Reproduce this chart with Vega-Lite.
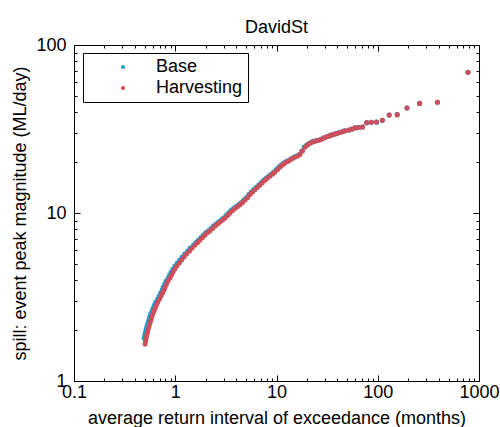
{
  "$schema": "https://vega.github.io/schema/vega-lite/v6.json",
  "width": 405,
  "height": 336,
  "autosize": "none",
  "padding": {"left": 74, "top": 45, "right": 21, "bottom": 46},
  "background": "white",
  "title": {"text": "DavidSt", "font": "Liberation Sans", "fontSize": 18, "fontWeight": "normal", "color": "black", "anchor": "middle", "baseline": "alphabetic", "offset": 13.5, "dy": 28},
  "config": {
    "view": {"stroke": "black", "strokeWidth": 1},
    "axis": {"grid": false, "domainColor": "black", "tickColor": "black", "labelColor": "black", "titleColor": "black", "labelFont": "Liberation Sans", "titleFont": "Liberation Sans", "labelFontSize": 18, "titleFontSize": 18, "titleFontWeight": "normal", "labelFlush": false, "labelOverlap": false, "domainWidth": 1, "tickWidth": 1},
    "legend": {"labelFont": "Liberation Sans", "labelFontSize": 18, "labelColor": "black"}
  },
  "data": {"values": [
    {"scenario":"Base","ari":0.4936,"peak":1.803},{"scenario":"Base","ari":0.5004,"peak":1.878},{"scenario":"Base","ari":0.5084,"peak":1.957},{"scenario":"Base","ari":0.5165,"peak":2.039},{"scenario":"Base","ari":0.5261,"peak":2.125},{"scenario":"Base","ari":0.5382,"peak":2.214},{"scenario":"Base","ari":0.5493,"peak":2.307},{"scenario":"Base","ari":0.5594,"peak":2.404},{"scenario":"Base","ari":0.5723,"peak":2.505},{"scenario":"Base","ari":0.5894,"peak":2.61},{"scenario":"Base","ari":0.6058,"peak":2.72},{"scenario":"Base","ari":0.6239,"peak":2.834},{"scenario":"Base","ari":0.6426,"peak":2.953},{"scenario":"Base","ari":0.6709,"peak":3.077},{"scenario":"Base","ari":0.6943,"peak":3.206},{"scenario":"Base","ari":0.7184,"peak":3.34},{"scenario":"Base","ari":0.7432,"peak":3.481},{"scenario":"Base","ari":0.7604,"peak":3.627},{"scenario":"Base","ari":0.7868,"peak":3.779},{"scenario":"Base","ari":0.8141,"peak":3.937},{"scenario":"Base","ari":0.8518,"peak":4.103},{"scenario":"Base","ari":0.8816,"peak":4.276},{"scenario":"Base","ari":0.9121,"peak":4.455},{"scenario":"Base","ari":0.9502,"peak":4.642},{"scenario":"Base","ari":0.9944,"peak":4.836},{"scenario":"Base","ari":1.0501,"peak":5.04},{"scenario":"Base","ari":1.1065,"peak":5.251},{"scenario":"Base","ari":1.1714,"peak":5.471},{"scenario":"Base","ari":1.2399,"peak":5.701},{"scenario":"Base","ari":1.327,"peak":5.94},{"scenario":"Base","ari":1.4046,"peak":6.19},
    {"scenario":"Base","ari":1.515,"peak":6.449},{"scenario":"Base","ari":1.603,"peak":6.674},{"scenario":"Base","ari":1.697,"peak":6.907},{"scenario":"Base","ari":1.796,"peak":7.148},{"scenario":"Base","ari":1.901,"peak":7.396},{"scenario":"Base","ari":2.012,"peak":7.644},{"scenario":"Base","ari":2.13,"peak":7.845},{"scenario":"Base","ari":2.255,"peak":8.085},{"scenario":"Base","ari":2.386,"peak":8.367},{"scenario":"Base","ari":2.526,"peak":8.6},{"scenario":"Base","ari":2.674,"peak":8.839},{"scenario":"Base","ari":2.831,"peak":9.085},{"scenario":"Base","ari":2.996,"peak":9.337},{"scenario":"Base","ari":3.171,"peak":9.663},{"scenario":"Base","ari":3.357,"peak":10.0},{"scenario":"Base","ari":3.553,"peak":10.35},{"scenario":"Base","ari":3.761,"peak":10.64},{"scenario":"Base","ari":3.981,"peak":10.92},{"scenario":"Base","ari":4.243,"peak":11.21},{"scenario":"Base","ari":4.491,"peak":11.55},{"scenario":"Base","ari":4.754,"peak":11.95},{"scenario":"Base","ari":5.032,"peak":12.33},{"scenario":"Base","ari":5.327,"peak":12.89},{"scenario":"Base","ari":5.638,"peak":13.34},{"scenario":"Base","ari":5.968,"peak":13.8},{"scenario":"Base","ari":6.316,"peak":14.24},{"scenario":"Base","ari":6.686,"peak":14.68},{"scenario":"Base","ari":7.077,"peak":15.19},{"scenario":"Base","ari":7.492,"peak":15.72},{"scenario":"Base","ari":7.93,"peak":16.15},{"scenario":"Base","ari":8.394,"peak":16.6},{"scenario":"Base","ari":8.885,"peak":17.06},{"scenario":"Base","ari":9.405,"peak":17.54},{"scenario":"Base","ari":9.955,"peak":18.15},{"scenario":"Base","ari":10.54,"peak":18.78},{"scenario":"Base","ari":11.15,"peak":19.31},{"scenario":"Base","ari":11.8,"peak":19.84},{"scenario":"Base","ari":12.49,"peak":20.25},{"scenario":"Base","ari":13.35,"peak":20.68},{"scenario":"Base","ari":14.13,"peak":21.11},{"scenario":"Base","ari":14.96,"peak":21.54},{"scenario":"Base","ari":15.83,"peak":21.84},{"scenario":"Base","ari":16.75,"peak":22.3},{"scenario":"Base","ari":17.73,"peak":23.39},{"scenario":"Base","ari":18.78,"peak":24.71},{"scenario":"Base","ari":19.88,"peak":25.4},{"scenario":"Base","ari":21.03,"peak":26.0},{"scenario":"Base","ari":22.27,"peak":26.46},{"scenario":"Base","ari":23.57,"peak":26.72},{"scenario":"Base","ari":24.95,"peak":27.01},{"scenario":"Base","ari":26.65,"peak":27.31},{"scenario":"Base","ari":28.21,"peak":27.65},{"scenario":"Base","ari":29.86,"peak":28.15},{"scenario":"Base","ari":31.6,"peak":28.54},{"scenario":"Base","ari":33.45,"peak":28.85},{"scenario":"Base","ari":35.41,"peak":29.21},{"scenario":"Base","ari":37.49,"peak":29.53},{"scenario":"Base","ari":39.68,"peak":29.85},{"scenario":"Base","ari":41.99,"peak":30.14},{"scenario":"Base","ari":44.45,"peak":30.47},{"scenario":"Base","ari":47.05,"peak":30.85},
    {"scenario":"Base","ari":51.87,"peak":31.2},{"scenario":"Base","ari":55.57,"peak":31.6},{"scenario":"Base","ari":59.85,"peak":32.1},{"scenario":"Base","ari":64.83,"peak":32.3},{"scenario":"Base","ari":70.73,"peak":32.5},{"scenario":"Base","ari":77.8,"peak":34.5},{"scenario":"Base","ari":86.44,"peak":34.7},{"scenario":"Base","ari":97.25,"peak":34.8},{"scenario":"Base","ari":111.1,"peak":35.6},{"scenario":"Base","ari":129.7,"peak":38.3},{"scenario":"Base","ari":155.6,"peak":38.5},{"scenario":"Base","ari":194.5,"peak":42.2},{"scenario":"Base","ari":259.3,"peak":44.9},{"scenario":"Base","ari":389,"peak":45.6},{"scenario":"Base","ari":778,"peak":68.8},
    {"scenario":"Harvesting","ari":0.5025,"peak":1.66},{"scenario":"Harvesting","ari":0.5095,"peak":1.73},{"scenario":"Harvesting","ari":0.5165,"peak":1.803},{"scenario":"Harvesting","ari":0.5236,"peak":1.878},{"scenario":"Harvesting","ari":0.532,"peak":1.957},{"scenario":"Harvesting","ari":0.5405,"peak":2.039},{"scenario":"Harvesting","ari":0.5505,"peak":2.125},{"scenario":"Harvesting","ari":0.5632,"peak":2.214},{"scenario":"Harvesting","ari":0.5748,"peak":2.307},{"scenario":"Harvesting","ari":0.5854,"peak":2.404},{"scenario":"Harvesting","ari":0.5989,"peak":2.505},{"scenario":"Harvesting","ari":0.6168,"peak":2.61},{"scenario":"Harvesting","ari":0.6339,"peak":2.72},{"scenario":"Harvesting","ari":0.6529,"peak":2.834},{"scenario":"Harvesting","ari":0.6725,"peak":2.953},{"scenario":"Harvesting","ari":0.6989,"peak":3.077},{"scenario":"Harvesting","ari":0.7233,"peak":3.206},{"scenario":"Harvesting","ari":0.7484,"peak":3.34},{"scenario":"Harvesting","ari":0.7743,"peak":3.481},{"scenario":"Harvesting","ari":0.7922,"peak":3.627},{"scenario":"Harvesting","ari":0.8197,"peak":3.779},{"scenario":"Harvesting","ari":0.8481,"peak":3.937},{"scenario":"Harvesting","ari":0.8874,"peak":4.103},{"scenario":"Harvesting","ari":0.9184,"peak":4.276},{"scenario":"Harvesting","ari":0.9502,"peak":4.455},{"scenario":"Harvesting","ari":0.9899,"peak":4.642},{"scenario":"Harvesting","ari":1.0359,"peak":4.836},{"scenario":"Harvesting","ari":1.094,"peak":5.04},{"scenario":"Harvesting","ari":1.1527,"peak":5.251},{"scenario":"Harvesting","ari":1.2203,"peak":5.471},{"scenario":"Harvesting","ari":1.2917,"peak":5.701},{"scenario":"Harvesting","ari":1.3824,"peak":5.94},{"scenario":"Harvesting","ari":1.4633,"peak":6.19},
    {"scenario":"Harvesting","ari":1.567,"peak":6.449},{"scenario":"Harvesting","ari":1.659,"peak":6.674},{"scenario":"Harvesting","ari":1.756,"peak":6.907},{"scenario":"Harvesting","ari":1.858,"peak":7.148},{"scenario":"Harvesting","ari":1.967,"peak":7.396},{"scenario":"Harvesting","ari":2.082,"peak":7.644},{"scenario":"Harvesting","ari":2.204,"peak":7.845},{"scenario":"Harvesting","ari":2.333,"peak":8.085},{"scenario":"Harvesting","ari":2.469,"peak":8.367},{"scenario":"Harvesting","ari":2.614,"peak":8.6},{"scenario":"Harvesting","ari":2.767,"peak":8.839},{"scenario":"Harvesting","ari":2.929,"peak":9.085},{"scenario":"Harvesting","ari":3.1,"peak":9.337},{"scenario":"Harvesting","ari":3.281,"peak":9.663},{"scenario":"Harvesting","ari":3.473,"peak":10.0},{"scenario":"Harvesting","ari":3.676,"peak":10.35},{"scenario":"Harvesting","ari":3.891,"peak":10.64},{"scenario":"Harvesting","ari":4.119,"peak":10.92},{"scenario":"Harvesting","ari":4.36,"peak":11.21},{"scenario":"Harvesting","ari":4.615,"peak":11.55},{"scenario":"Harvesting","ari":4.885,"peak":11.95},{"scenario":"Harvesting","ari":5.171,"peak":12.33},{"scenario":"Harvesting","ari":5.474,"peak":12.89},{"scenario":"Harvesting","ari":5.794,"peak":13.34},{"scenario":"Harvesting","ari":6.133,"peak":13.8},{"scenario":"Harvesting","ari":6.491,"peak":14.24},{"scenario":"Harvesting","ari":6.871,"peak":14.68},{"scenario":"Harvesting","ari":7.273,"peak":15.19},{"scenario":"Harvesting","ari":7.699,"peak":15.72},{"scenario":"Harvesting","ari":8.149,"peak":16.15},{"scenario":"Harvesting","ari":8.626,"peak":16.6},{"scenario":"Harvesting","ari":9.131,"peak":17.06},{"scenario":"Harvesting","ari":9.665,"peak":17.54},{"scenario":"Harvesting","ari":10.23,"peak":18.15},{"scenario":"Harvesting","ari":10.83,"peak":18.78},{"scenario":"Harvesting","ari":11.46,"peak":19.31},{"scenario":"Harvesting","ari":12.13,"peak":19.84},{"scenario":"Harvesting","ari":12.84,"peak":20.25},{"scenario":"Harvesting","ari":13.59,"peak":20.68},{"scenario":"Harvesting","ari":14.39,"peak":21.11},{"scenario":"Harvesting","ari":15.23,"peak":21.54},{"scenario":"Harvesting","ari":16.12,"peak":21.84},{"scenario":"Harvesting","ari":17.06,"peak":22.3},{"scenario":"Harvesting","ari":18.06,"peak":23.39},{"scenario":"Harvesting","ari":19.12,"peak":24.71},{"scenario":"Harvesting","ari":20.24,"peak":25.4},{"scenario":"Harvesting","ari":21.42,"peak":26.0},{"scenario":"Harvesting","ari":22.68,"peak":26.46},{"scenario":"Harvesting","ari":24.0,"peak":26.72},{"scenario":"Harvesting","ari":25.41,"peak":27.01},{"scenario":"Harvesting","ari":26.89,"peak":27.31},{"scenario":"Harvesting","ari":28.47,"peak":27.65},{"scenario":"Harvesting","ari":30.13,"peak":28.15},{"scenario":"Harvesting","ari":31.89,"peak":28.54},{"scenario":"Harvesting","ari":33.76,"peak":28.85},{"scenario":"Harvesting","ari":35.74,"peak":29.21},{"scenario":"Harvesting","ari":37.83,"peak":29.53},{"scenario":"Harvesting","ari":40.04,"peak":29.85},{"scenario":"Harvesting","ari":42.38,"peak":30.14},{"scenario":"Harvesting","ari":44.86,"peak":30.47},{"scenario":"Harvesting","ari":47.48,"peak":30.85},
    {"scenario":"Harvesting","ari":51.87,"peak":31.2},{"scenario":"Harvesting","ari":55.57,"peak":31.6},{"scenario":"Harvesting","ari":59.85,"peak":32.1},{"scenario":"Harvesting","ari":64.83,"peak":32.3},{"scenario":"Harvesting","ari":70.73,"peak":32.5},{"scenario":"Harvesting","ari":77.8,"peak":34.5},{"scenario":"Harvesting","ari":86.44,"peak":34.7},{"scenario":"Harvesting","ari":97.25,"peak":34.8},{"scenario":"Harvesting","ari":111.1,"peak":35.6},{"scenario":"Harvesting","ari":129.7,"peak":38.3},{"scenario":"Harvesting","ari":155.6,"peak":38.5},{"scenario":"Harvesting","ari":194.5,"peak":42.2},{"scenario":"Harvesting","ari":259.3,"peak":44.9},{"scenario":"Harvesting","ari":389,"peak":45.6},{"scenario":"Harvesting","ari":778,"peak":68.8}
  ]},
  "layer": [
    {
      "mark": {"type": "point", "filled": true, "size": 26, "opacity": 1},
      "encoding": {
        "x": {"field": "ari", "type": "quantitative", "scale": {"type": "log", "domain": [0.1, 1000], "nice": false},
          "axis": {"orient": "bottom", "values": [0.1,0.2,0.3,0.4,0.5,0.6,0.7,0.8,0.9,1,2,3,4,5,6,7,8,9,10,20,30,40,50,60,70,80,90,100,200,300,400,500,600,700,800,900,1000],
            "format": "~g", "labelExpr": "indexof([0.1,1,10,100,1000], datum.value) >= 0 ? datum.label : ''",
            "tickSize": {"condition": {"test": "indexof([0.1,1,10,100,1000], datum.value) >= 0", "value": -6}, "value": -3},
            "labelPadding": 8, "title": "average return interval of exceedance (months)", "titleY": 42, "titleBaseline": "alphabetic"}},
        "y": {"field": "peak", "type": "quantitative", "scale": {"type": "log", "domain": [1, 100], "nice": false},
          "axis": {"orient": "left", "values": [1,2,3,4,5,6,7,8,9,10,20,30,40,50,60,70,80,90,100],
            "format": "~g", "labelExpr": "indexof([1,10,100], datum.value) >= 0 ? datum.label : ''",
            "tickSize": {"condition": {"test": "indexof([1,10,100], datum.value) >= 0", "value": -6}, "value": -3},
            "labelPadding": 14, "title": "spill: event peak magnitude (ML/day)", "titleX": -54, "titleY": 168, "titleBaseline": "middle"}},
        "color": {"field": "scenario", "type": "nominal",
          "scale": {"domain": ["Base", "Harvesting"], "range": ["#139fd3", "#cd4f5b"]},
          "legend": {"title": null, "orient": "none", "legendX": 9, "legendY": 8, "padding": 5, "strokeColor": "black", "fillColor": "white", "symbolSize": 18, "symbolType": "circle", "symbolOffset": 26, "labelOffset": 24, "rowPadding": 3, "labelLimit": 200}}
      }
    },
    {
      "mark": {"type": "point", "opacity": 0},
      "encoding": {
        "x": {"field": "ari", "type": "quantitative", "scale": {"type": "log", "domain": [0.1, 1000], "nice": false},
          "axis": {"orient": "top", "labels": false, "title": null, "values": [0.1,0.2,0.3,0.4,0.5,0.6,0.7,0.8,0.9,1,2,3,4,5,6,7,8,9,10,20,30,40,50,60,70,80,90,100,200,300,400,500,600,700,800,900,1000],
            "tickSize": {"condition": {"test": "indexof([0.1,1,10,100,1000], datum.value) >= 0", "value": -6}, "value": -3}}},
        "y": {"field": "peak", "type": "quantitative", "scale": {"type": "log", "domain": [1, 100], "nice": false},
          "axis": {"orient": "right", "labels": false, "title": null, "values": [1,2,3,4,5,6,7,8,9,10,20,30,40,50,60,70,80,90,100],
            "tickSize": {"condition": {"test": "indexof([1,10,100], datum.value) >= 0", "value": -6}, "value": -3}}}
      }
    }
  ],
  "resolve": {"axis": {"x": "independent", "y": "independent"}}
}
